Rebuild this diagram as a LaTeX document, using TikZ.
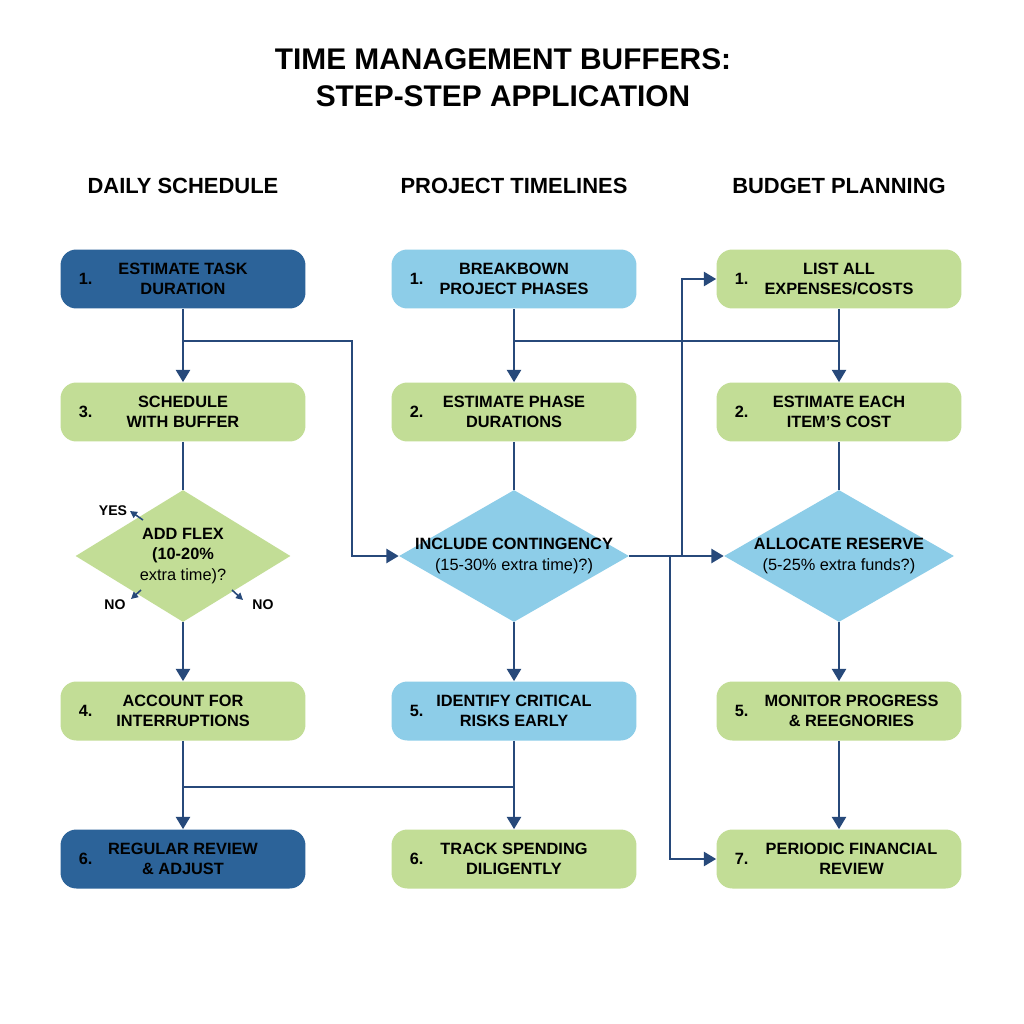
\documentclass[tikz,border=0pt]{standalone}
\usepackage{fontspec}
\setmainfont{Liberation Sans}
\usetikzlibrary{shapes.geometric,arrows.meta}
\definecolor{darkbox}{HTML}{2C6399}
\definecolor{lightbox}{HTML}{8DCDE8}
\definecolor{greenbox}{HTML}{C2DD96}
\definecolor{linkblue}{HTML}{27497A}
\tikzset{
  stepbox/.style={rounded corners=9pt, minimum width=4.9cm, minimum height=1.18cm,
    align=center, font=\fontsize{9.3}{11.5}\selectfont\bfseries, inner sep=0pt},
  darkstep/.style={stepbox, fill=darkbox},
  lightstep/.style={stepbox, fill=lightbox},
  greenstep/.style={stepbox, fill=greenbox},
  decision/.style={diamond, minimum width=4.3cm, minimum height=2.64cm, inner sep=0pt},
  dtext/.style={align=center, font=\fontsize{9.3}{11.5}\selectfont\bfseries},
  num/.style={anchor=west, xshift=0.25cm, font=\fontsize{9.3}{11}\selectfont\bfseries},
  link/.style={draw=linkblue, line width=1.3pt},
  arr/.style={link, -{Triangle[length=7pt,width=8pt]}},
  small/.style={font=\fontsize{8}{9}\selectfont\bfseries}
}
\begin{document}
\begin{tikzpicture}[x=0.02cm, y=-0.02cm]
  \useasboundingbox[fill=white] (0,0) rectangle (1024,1024);

  % title and headers
  \node (title) at (503,78) [align=center, font=\fontsize{17}{21}\selectfont\bfseries]
    {TIME MANAGEMENT BUFFERS:\\STEP-STEP APPLICATION};
  \node (h1) at (183,186) [font=\fontsize{12.5}{14}\selectfont\bfseries] {DAILY SCHEDULE};
  \node (h2) at (514,186) [font=\fontsize{12.5}{14}\selectfont\bfseries] {PROJECT TIMELINES};
  \node (h3) at (839,186) [font=\fontsize{12.5}{14}\selectfont\bfseries] {BUDGET PLANNING};

  % daily schedule
  \node (d1) at (183,279) [darkstep, label={[num]west:1.}] {ESTIMATE TASK\\DURATION};
  \node (d3) at (183,412) [greenstep, label={[num]west:3.}] {SCHEDULE\\WITH BUFFER};
  \node (dq) at (183,556) [decision, fill=greenbox] {};
  \node (dqt) at (dq) [dtext] {ADD FLEX\\(10-20\%\\\mdseries extra time)?};
  \node (d4) at (183,711) [greenstep, label={[num]west:4.}] {ACCOUNT FOR\\INTERRUPTIONS};
  \node (d6) at (183,859) [darkstep, label={[num]west:6.}] {REGULAR REVIEW\\\& ADJUST};
  \node (yes) at (113,511) [small] {YES};
  \node (no1) at (115,605) [small] {NO};
  \node (no2) at (263,605) [small] {NO};

  % project timelines
  \node (p1) at (514,279) [lightstep, label={[num]west:1.}] {BREAKBOWN\\PROJECT PHASES};
  \node (p2) at (514,412) [greenstep, label={[num]west:2.}] {ESTIMATE PHASE\\DURATIONS};
  \node (pq) at (514,556) [decision, minimum width=4.6cm, fill=lightbox] {};
  \node (pqt) at (pq) [dtext] {INCLUDE CONTINGENCY\\\mdseries(15-30\% extra time)?)};
  \node (p5) at (514,711) [lightstep, label={[num]west:5.}] {IDENTIFY CRITICAL\\RISKS EARLY};
  \node (p6) at (514,859) [greenstep, label={[num]west:6.}] {TRACK SPENDING\\DILIGENTLY};

  % budget planning
  \node (b1) at (839,279) [greenstep, label={[num]west:1.}] {LIST ALL\\EXPENSES/COSTS};
  \node (b2) at (839,412) [greenstep, label={[num]west:2.}] {ESTIMATE EACH\\ITEM'S COST};
  \node (bq) at (839,556) [decision, minimum width=4.6cm, fill=lightbox] {};
  \node (bqt) at (bq) [dtext] {ALLOCATE RESERVE\\\mdseries(5-25\% extra funds?)};
  \node (b5) at (839,711) [greenstep, label={[num]west:5.}] {\hspace{0.5cm}MONITOR PROGRESS\\\hspace{0.5cm}\& REEGNORIES};
  \node (b7) at (839,859) [greenstep, label={[num]west:7.}] {\hspace{0.5cm}PERIODIC FINANCIAL\\\hspace{0.5cm}REVIEW};

  \coordinate (j1) at (183,341);
  \coordinate (j2) at (514,341);
  \coordinate (j3) at (183,787);
  \coordinate (j4) at (682,556);
  \coordinate (j5) at (670,556);

  % connectors
  \draw [arr] (d1) -- (d3);
  \draw [arr] (j1) -| (352,556) -- (pq.west);
  \draw [link] (d3) -- (dq);
  \draw [arr] (dq) -- (d4);
  \draw [arr] (d4) -- (d6);
  \draw [link] (j3) -| (p5.south);
  \draw [arr] (p5) -- (p6);
  \draw [arr] (p1) -- (p2);
  \draw [link] (j2) -- (839,341);
  \draw [arr] (b1) -- (b2);
  \draw [link] (p2) -- (pq);
  \draw [arr] (pq) -- (p5);
  \draw [arr] (pq.east) -- (bq.west);
  \draw [arr] (j4) |- (b1.west);
  \draw [arr] (j5) |- (b7.west);
  \draw [link] (b2) -- (bq);
  \draw [arr] (bq) -- (b5);
  \draw [arr] (b5) -- (b7);
  \draw [linkblue, line width=0.9pt, -{Triangle[length=4pt,width=4pt]}] (143,520) -- (130,511);
  \draw [linkblue, line width=0.9pt, -{Triangle[length=4pt,width=4pt]}] (141,590) -- (131,599);
  \draw [linkblue, line width=0.9pt, -{Triangle[length=4pt,width=4pt]}] (232,590) -- (243,600);
\end{tikzpicture}
\end{document}
